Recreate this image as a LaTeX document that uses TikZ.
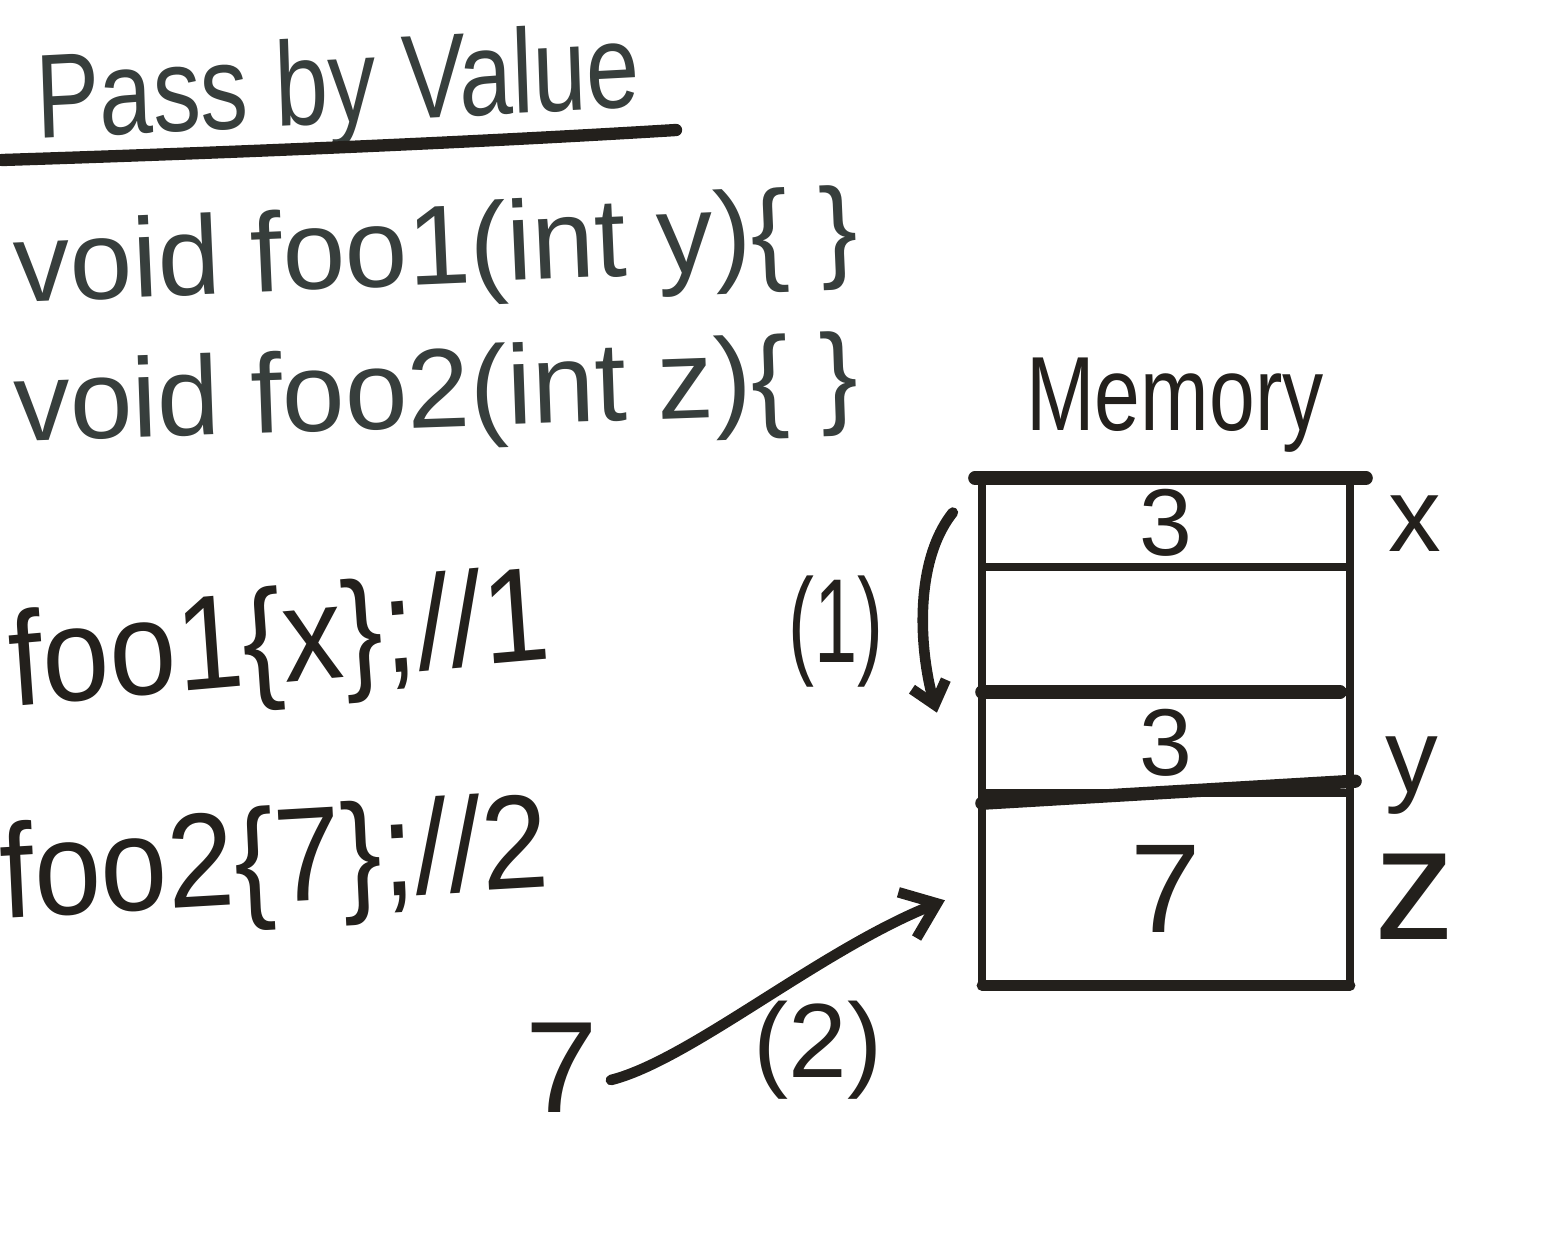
\documentclass[tikz,border=0pt]{standalone}
\usepackage{fontspec}
\setmainfont{Liberation Sans}
\usetikzlibrary{arrows.meta}
\definecolor{ink}{RGB}{55,62,60}
\definecolor{pen}{RGB}{35,32,28}
\begin{document}
\begin{tikzpicture}[x=0.01cm,y=-0.01cm,
  hand/.style={font=\fontsize{#1}{#1}\selectfont, text=ink, inner sep=0pt, transform shape},
  dark/.style={text=pen},
  cell/.style={draw=pen, line width=2.2pt, minimum width=3.68cm, inner sep=0pt, outer sep=0pt, anchor=north,
               font=\fontsize{27}{27}\selectfont, text=pen},
  sepline/.style={draw=pen, line width=3.8pt, line cap=round},
  arr/.style={draw=pen, line width=3pt, line cap=round}]
\useasboundingbox[fill=white] (0,0) rectangle (1558,1242);

% title and code
\path (338,92) node[hand=34, xscale=0.8, rotate=2.4] (title) {Pass by Value};
\draw[pen, line width=3.5pt, line cap=round] (2,160) .. controls (250,152) and (480,142) .. (676,130);
\path (436,255) node[hand=32, xscale=1.0, rotate=2.5] (line1) {void foo1(int y)\{ \}};
\path (436,398) node[hand=32, xscale=1.0, rotate=2] (line2) {void foo2(int z)\{ \}};
\path (280,648) node[hand=38, dark, xscale=0.9, rotate=4.5] (call1) {foo1\{x\};//1};
\path (275,868) node[hand=38, dark, xscale=0.9, rotate=3] (call2) {foo2\{7\};//2};

% memory
\path (1175,405) node[hand=30, dark, xscale=0.78] (mem) {Memory};
\node[cell, minimum height=0.89cm] (c1) at (1166,478) {3};
\node[cell, minimum height=1.25cm] (c2) at (c1.south) {};
\node[cell, minimum height=1.01cm] (c3) at (c2.south) {3};
\node[cell, minimum height=1.92cm, font=\fontsize{36}{36}\selectfont] (c4) at (c3.south) {7};
\draw[sepline] ([xshift=-2pt]c1.north west) -- ([xshift=0.16cm]c1.north east);
\draw[sepline] (c3.north west) -- ([xshift=-0.1cm]c3.north east);
\draw[sepline] ([yshift=-0.1cm]c4.north west) -- ([xshift=0.05cm,yshift=0.12cm]c4.north east);
\draw[sepline, line width=3pt] (c4.south west) -- (c4.south east);

\path (1415,524) node[hand=30, dark] (lx) {x};
\path (1412,776) node[hand=30, dark] (ly) {y};
\path (1415,897) node[hand=46, dark] (lz) {z};

% step (1)
\path (836,632) node[hand=34, dark, xscale=0.65] (one) {(1)};
\coordinate (a1s) at ([xshift=-0.29cm,yshift=0.1cm]c1.west);
\coordinate (a1e) at ([xshift=-0.45cm,yshift=0.3cm]c3.west);
\draw[arr, -{Straight Barb[length=6pt,width=10pt]}] (a1s) .. controls +(-40,50) and +(-17,-60) .. (a1e);

% step (2)
\path (562,1068) node[hand=37, dark] (seven) {7};
\coordinate (a2s) at ([xshift=0.12cm,yshift=-0.12cm]seven.east);
\coordinate (a2e) at ([xshift=-0.37cm,yshift=-0.11cm]c4.west);
\draw[arr, -{Straight Barb[length=9pt,width=14pt]}] (a2s) .. controls (690,1060) and (820,950) .. (a2e);
\path (818,1050) node[hand=30, dark] (two) {(2)};
\end{tikzpicture}
\end{document}
